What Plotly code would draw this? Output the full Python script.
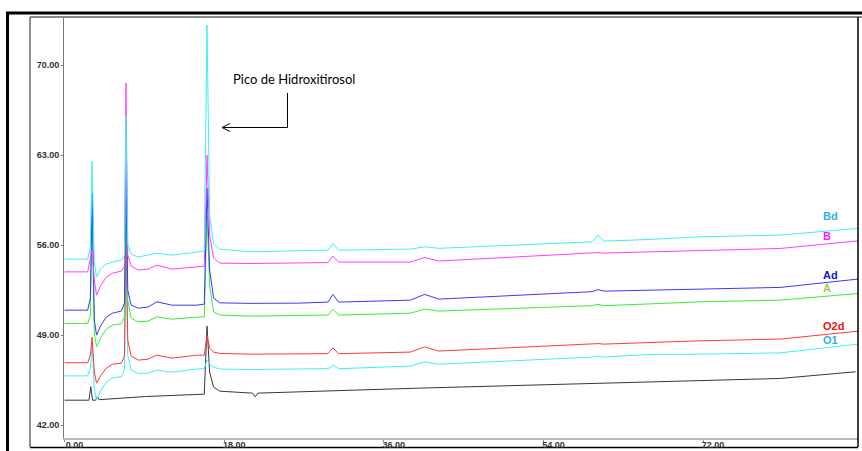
import plotly.graph_objects as go

# ---------------- data ----------------
time_min = [0, 2.6, 2.9, 3.1, 3.35, 3.6, 4.1, 4.7, 5.4, 6.4, 6.75, 6.92, 7.12, 7.5, 8.3,
            9.4, 10.4, 12.1, 14.9, 15.75, 16.06, 16.35, 16.8, 17.5, 21.0, 26.5, 29.7,
            30.25, 30.9, 39.0, 40.6, 42.2, 59.5, 60.15, 60.8, 66.0, 71.7, 80.7, 89.5]

bd = [54.91, 54.91, 55.8, 62.53, 54.68, 53.51, 54.21, 54.52, 54.68, 54.83, 55.22, 66.03, 56.0, 55.3, 55.07,
      55.22, 55.38, 55.22, 55.46, 55.53, 73.11, 58.33, 56.08, 55.69, 55.48, 55.53, 55.61,
      56.13, 55.61, 55.69, 55.87, 55.75, 56.26, 56.78, 56.31, 56.44, 56.65, 56.78, 57.3]

b = [53.92, 53.92, 55.0, 55.6, 53.28, 52.11, 52.89, 53.51, 53.82, 53.98, 54.37, 68.6, 55.22, 54.37, 54.06,
     54.13, 54.44, 54.13, 54.31, 54.37, 63.0, 56.78, 54.99, 54.6, 54.57, 54.6, 54.64,
     55.14, 54.68, 54.68, 55.04, 54.76, 55.38, 55.42, 55.38, 55.48, 55.61, 55.74, 56.33]

ad = [50.94, 50.94, 51.88, 60.04, 50.17, 49.0, 49.78, 50.4, 50.71, 50.87, 51.49, 62.22, 52.5, 51.33, 51.1,
      51.18, 51.59, 51.33, 51.33, 51.41, 60.43, 54.06, 51.88, 51.51, 51.47, 51.49, 51.57,
      52.17, 51.57, 51.72, 52.17, 51.8, 52.38, 52.54, 52.42, 52.5, 52.58, 52.71, 53.36]

a = [49.91, 49.91, 50.56, 57.71, 49.16, 48.09, 48.84, 49.47, 49.78, 49.89, 50.4, 61.21, 51.72, 50.32, 50.03,
     50.09, 50.42, 50.24, 50.4, 50.42, 58.33, 52.89, 50.81, 50.56, 50.48, 50.52, 50.56,
     51.02, 50.56, 50.71, 51.02, 50.87, 51.29, 51.39, 51.29, 51.43, 51.59, 51.72, 52.24]

o2d = [46.85, 46.85, 47.44, 48.84, 46.12, 45.27, 45.89, 46.43, 46.74, 46.82, 47.37, 57.94, 48.61, 47.37, 47.06,
       47.13, 47.44, 47.21, 47.44, 47.44, 49.0, 47.99, 47.68, 47.58, 47.52, 47.56, 47.56,
       48.01, 47.56, 47.68, 48.09, 47.76, 48.3, 48.34, 48.3, 48.43, 48.56, 48.69, 49.31]

o1 = [45.83, 45.83, 46.43, 48.22, 44.88, 43.94, 44.72, 45.34, 45.66, 45.77, 46.28, 55.61, 47.44, 46.28, 46.02,
      46.04, 46.28, 46.12, 46.36, 46.41, 47.06, 46.74, 46.51, 46.36, 46.33, 46.36, 46.39,
      46.67, 46.39, 46.59, 46.92, 46.74, 47.29, 47.37, 47.29, 47.5, 47.52, 47.62, 48.3]

time_black = [0, 2.75, 2.95, 3.15, 3.5, 3.7, 3.9, 9.0, 15.75, 16.06, 16.35, 16.8, 17.5,
              21.2, 21.5, 21.8, 40.0, 60.0, 71.7, 80.7, 89.2]
black = [43.94, 43.94, 44.98, 43.94, 43.94, 44.2, 43.98, 44.22, 44.41, 49.7, 46.12, 44.96, 44.64,
         44.49, 44.2, 44.49, 44.88, 45.27, 45.5, 45.63, 46.15]

series_names = ["O1", "O2d", "A", "Ad", "B", "Bd"]
series_values = [o1, o2d, a, ad, b, bd]
line_colors = ["#3cf0f0", "#ff3838", "#38ee38", "#3838ff", "#ff40ff", "#3cf0f0"]
label_colors = ["#2fb0ea", "#ee1111", "#99cc55", "#1414c8", "#ff1aff", "#2fb0ea"]
label_y = [48.61, 49.7, 52.63, 53.67, 56.72, 58.26]

x_ticks = [0, 18, 36, 54, 72]
x_ticktext = ["0.00", "18.00", "36.00", "54.00", "72.00"]
y_ticks = [42, 49, 56, 63, 70]
y_ticktext = ["42.00", "49.00", "56.00", "63.00", "70.00"]

X_RANGE = [-0.07, 89.47]
Y_RANGE = [41.0, 73.74]
W, H = 862, 451
ML, MR, MT, MB = 64, 4, 17, 13

fig = go.Figure()
fig.add_trace(go.Scatter(x=time_black, y=black, mode="lines",
                         line=dict(color="#383838", width=1), name="black"))
for nm, vals, col in zip(series_names, series_values, line_colors):
    fig.add_trace(go.Scatter(x=time_min, y=vals, mode="lines",
                             line=dict(color=col, width=1), name=nm))

tick_font = dict(family="Liberation Sans", size=9, color="#333333", weight="bold")

fig.update_layout(
    width=W, height=H,
    margin=dict(l=ML, r=MR, t=MT, b=MB, pad=0, autoexpand=False),
    paper_bgcolor="white", plot_bgcolor="white",
    showlegend=False,
    xaxis=dict(range=X_RANGE, tickvals=x_ticks, ticktext=x_ticktext, showgrid=False,
               zeroline=False, showline=True, linecolor="#b8b8b8", linewidth=2,
               ticks="outside", ticklen=2, tickcolor="#888888", tickfont=tick_font,
               ticklabelshift=10, ticklabelstandoff=-5, automargin=False),
    yaxis=dict(range=Y_RANGE, tickvals=y_ticks, ticktext=y_ticktext, showgrid=False,
               zeroline=False, showline=True, linecolor="#777777", linewidth=1,
               ticks="outside", ticklen=2, tickcolor="#777777", tickfont=tick_font,
               automargin=False),
)

# pixel -> paper helpers (for frame/arrow decorations)
def pxx(px):
    return (px - ML) / (W - ML - MR)

def pxy(py):
    return (H - MB - py) / (H - MT - MB)

shapes = []
def seg(x0, y0, x1, y1, color, width, layer="above"):
    shapes.append(dict(type="line", xref="paper", yref="paper",
                       x0=pxx(x0), y0=pxy(y0), x1=pxx(x1), y1=pxy(y1),
                       line=dict(color=color, width=width), layer=layer))

# outer black frame
seg(7.5, 13, 7.5, H + 5, "black", 3)
seg(6, 13, W + 5, 13, "black", 3)
# inner frame
seg(30, 17, W + 5, 17, "#8a8a8a", 2)
seg(30, 17, 30, 447, "#444444", 1.2)
seg(858, 17, 858, 447, "black", 1.5)
seg(30, 447.5, 858, 447.5, "black", 1.5, layer="below")
# arrow to the hydroxytyrosol peak
seg(287.5, 93, 287.5, 127.5, "black", 1)
seg(222, 127.5, 287.5, 127.5, "black", 1)
seg(222, 127.5, 230, 123.5, "black", 1)
seg(222, 127.5, 230, 131.5, "black", 1)
fig.update_layout(shapes=shapes)

annotations = [dict(text="Pico de Hidroxitirosol", xref="paper", yref="paper",
                    x=pxx(230.5), y=pxy(79), xanchor="left", yanchor="middle",
                    showarrow=False, font=dict(family="Lato", size=13, color="black"))]
for nm, ly, lc in zip(series_names, label_y, label_colors):
    annotations.append(dict(text=nm, x=85.3, y=ly, xref="x", yref="y", xanchor="left",
                            yanchor="middle", showarrow=False,
                            font=dict(family="Liberation Sans", size=11, color=lc,
                                      weight="bold")))
fig.update_layout(annotations=annotations)

fig.write_html("out.html")
